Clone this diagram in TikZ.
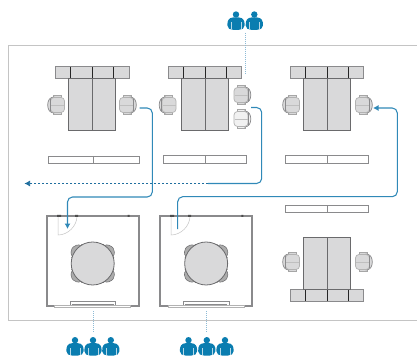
\documentclass[tikz,border=0pt]{standalone}
\usetikzlibrary{arrows.meta}
\definecolor{flow}{HTML}{3089B8}
\definecolor{flowdark}{HTML}{1F6E9E}
\definecolor{person}{HTML}{0A7DB0}
\definecolor{dotline}{HTML}{8DBBD6}
\definecolor{frameg}{HTML}{C4C4C4}
\definecolor{fillg}{HTML}{D9D9DA}
\definecolor{edgeg}{HTML}{6A6A6C}
\definecolor{chairlight}{HTML}{F1F1F1}
\definecolor{wallg}{HTML}{8A8A8C}
\tikzset{
  x=1pt,y=-1pt,
  frameline/.style={draw=frameg,line width=0.8pt},
  furn/.style={draw=edgeg,fill=fillg,line width=1pt},
  barbox/.style={draw=wallg,fill=fillg,line width=1pt},
  divider/.style={draw=black!85,line width=0.8pt},
  shelfbox/.style={draw=wallg,fill=white,line width=0.9pt},
  flowline/.style={draw=flow,line width=1.05pt,rounded corners=5pt},
  flowdash/.style={draw=flowdark,line width=0.75pt,dash pattern=on 2pt off 2pt},
  tip/.style={-{Latex[length=5.5pt,width=6pt]}},
  dottedlink/.style={draw=dotline,line width=1pt,dash pattern=on 1pt off 1pt},
  pics/chair/.style={code={
    \fill[#1,draw=gray!70,line width=0.7pt] (-4,-9.5) rectangle (4,9.5);
    \draw[wallg,fill=#1,line width=0.7pt] (3,-8) .. controls (7.5,-8) and (9.3,-4) .. (9.3,0) .. controls (9.3,4) and (7.5,8) .. (3,8) -- cycle;
    \fill[#1,draw=gray!60,rounded corners=3.5pt,line width=0.7pt] (-7.5,-7.5) rectangle (6.5,7.5);
    \draw[wallg,line width=1pt] (6.6,-6) -- (6.6,6);
    \draw[gray!50,line width=0.3pt] (-7,0) -- (6,0);
  }},
  pics/roundchair/.style={code={
    \fill[gray!65,draw=edgeg,line width=0.5pt,rounded corners=2pt] (15,-7.5) -- (21,-7.5) -- (25.5,-3) -- (25.5,3) -- (21,7.5) -- (15,7.5) -- cycle;
    \fill[black!70] (18,-8.6) rectangle (20.5,-7);
    \fill[black!70] (18,7) rectangle (20.5,8.6);
  }},
  pics/personicon/.style={code={
    \fill[person] (0,0) circle (3.2);
    \fill[person] (-8.6,11) .. controls (-9,6) and (-7,3.2) .. (-3,3) -- (3,3) .. controls (7,3.2) and (9,6) .. (8.6,11) .. controls (8.6,14) and (6,15.3) .. (3,15.3) -- (-3,15.3) .. controls (-6,15.3) and (-8.6,14) .. (-8.6,11) -- cycle;
    \draw[white!70!person,line width=0.35pt] (-5,8) -- (-5,15) (5,8) -- (5,15);
  }},
}
\newcommand{\bardesk}[4]{% desk centre x, bar top y, desk top y, desk bottom y
  \draw[barbox] (#1-36.8,#2) rectangle (#1+36.8,#2+12);
  \draw[divider] (#1-21.5,#2) -- (#1-21.5,#2+12) (#1,#2) -- (#1,#2+12) (#1+21.5,#2) -- (#1+21.5,#2+12);
  \draw[furn] (#1-23.5,#3) rectangle (#1+23.5,#4);
  \draw[edgeg,line width=1pt] (#1,#3) -- (#1,#4);
}
\newcommand{\shelfunit}[4]{% left, right, top, mid
  \draw[shelfbox] (#1,#3) rectangle (#2,#3+7.5);
  \draw[wallg,line width=0.8pt] (#4,#3) -- (#4,#3+7.5);
}
\newcommand{\roomunit}[3]{% left, right, door hinge x
  \fill[white] (#1,215.7) rectangle (#2,306);
  \draw[wallg,line width=1.8pt] (#1,306) -- (#1,215.7) -- (#2,215.7) -- (#2,306) -- cycle;
  \draw[gray!45,line width=0.5pt] (#3,216) -- (#3,235) .. controls (#3+10,235) and (#3+19,226) .. (#3+19,216);
  \fill[black!70] (#3-1,214.8) rectangle (#3+3,216.8) (#3+17,214.8) rectangle (#3+20,216.8) (#2-11,214.8) rectangle (#2-9,216.8);
  \begin{scope}[shift={({(#1+#2)/2},263.5)}]
    \foreach \a in {-38,38,142,218}
      \pic[rotate=\a] {roundchair};
    \fill[fillg,draw=edgeg,line width=0.8pt] (0,0) circle (21.5);
  \end{scope}
  \draw[wallg,fill=white,line width=0.6pt] ({(#1+#2)/2-22.8},301.5) rectangle ({(#1+#2)/2+22.8},305);
  \draw[wallg,line width=1pt] ({(#1+#2)/2-21},304.3) -- ({(#1+#2)/2+21},304.3);
  \draw[gray!60,fill=white,line width=0.5pt] ({(#1+#2)/2-38},305.5) rectangle ({(#1+#2)/2+38},307.5);
}
\begin{document}
\begin{tikzpicture}
\useasboundingbox (0,0) rectangle (417,358);
\fill[white] (0,0) rectangle (417,358);
% building outline
\draw[frameline] (417,45) -- (8,45) -- (8,320) -- (417,320);

% desks
\bardesk{92.3}{67}{79}{130.3}
\bardesk{205}{67}{79}{130.3}
\bardesk{327}{67}{79}{130.3}
\bardesk{327}{289}{237}{289}

% chairs
\pic[rotate=180] at (57,105) {chair=fillg};
\pic at (127,105) {chair=fillg};
\pic[rotate=180] at (168.5,105) {chair=fillg};
\pic at (241.5,95) {chair=fillg};
\pic at (241.5,119) {chair=chairlight};
\pic[rotate=180] at (292,105) {chair=fillg};
\pic at (363,105) {chair=fillg};
\pic[rotate=180] at (292,262) {chair=fillg};
\pic at (363,262) {chair=fillg};

% shelves
\shelfunit{48}{139}{156}{93.5}
\shelfunit{163.5}{246.5}{155.5}{205.5}
\shelfunit{285.5}{368.5}{155.5}{327}
\shelfunit{285.5}{368.5}{205}{327}

% meeting rooms
\roomunit{46.7}{138.7}{58}
\roomunit{160}{252.3}{171}

% people
\foreach \n/\x/\y in {ta/236/14.5,tb/254.3/14.5,
                      la/75/340.2,lb/93/340.2,lc/110.8/340.2,
                      ra/188.5/340.2,rb/206.8/340.2,rc/225/340.2}
  \pic (p\n) at (\x,\y) {personicon};

% named connector ends
\coordinate (linkTopA) at (245,33);
\coordinate (linkTopB) at (245,75);
\coordinate (linkLeftA) at (93,311);
\coordinate (linkLeftB) at (93,332);
\coordinate (linkRightA) at (206.5,311);
\coordinate (linkRightB) at (206.5,332);
\draw[dottedlink] (linkTopA) -- (linkTopB);
\draw[dottedlink] (linkLeftA) -- (linkLeftB);
\draw[dottedlink] (linkRightA) -- (linkRightB);

\coordinate (chairOne) at (139.5,108);
\coordinate (roomOne) at (67.5,229);
\coordinate (chairTwo) at (251,107.5);
\coordinate (exitSplit) at (208,183.5);
\coordinate (exitEnd) at (24.5,183.5);
\coordinate (roomTwo) at (177.7,229);
\coordinate (chairThree) at (373,108);

\draw[flowline,tip] (chairOne) -| (152.3,197) -| (roomOne);
\draw[flowline] (chairTwo) -| (261.7,183.5) -- (exitSplit);
\draw[flowdash,tip] (exitSplit) -- (exitEnd);
\draw[flowline,tip] (roomTwo) |- (397.3,196.7) |- (chairThree);
\end{tikzpicture}
\end{document}
